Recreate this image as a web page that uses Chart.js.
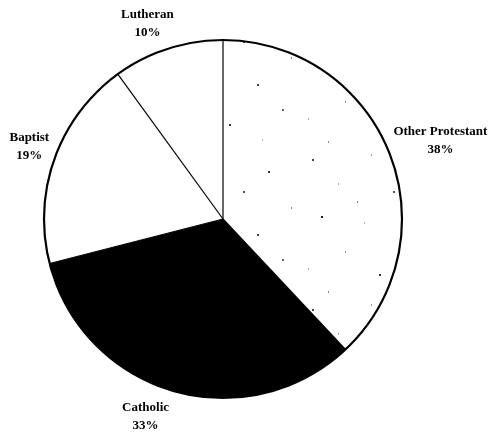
<!DOCTYPE html>
<html>
<head>
<meta charset="utf-8">
<script src="https://cdn.jsdelivr.net/npm/chart.js@4.4.1/dist/chart.umd.min.js"></script>
<style>
  html, body { margin: 0; padding: 0; background: #fff; }
  #wrap { width: 488px; height: 439px; }
</style>
</head>
<body>
<div id="wrap"><canvas id="pie"></canvas></div>
<script>
// Denomination shares (%)
const labels = ["Other Protestant", "Catholic", "Baptist", "Lutheran"];
const shares = [38, 33, 19, 10];

// sparse, uneven stipple for the "Other Protestant" slice
function stipple() {
  const c = document.createElement("canvas");
  c.width = 150; c.height = 150;
  const g = c.getContext("2d");
  g.fillStyle = "#fff";
  g.fillRect(0, 0, 150, 150);
  const dots = [
    [12, 9, 2, "#444"], [71, 4, 1, "#999"], [118, 21, 2, "#333"], [38, 33, 1, "#aaa"],
    [93, 41, 2, "#555"], [141, 57, 1, "#888"], [21, 66, 2, "#222"], [64, 72, 1, "#bbb"],
    [107, 84, 2, "#444"], [45, 101, 1, "#999"], [132, 109, 2, "#666"], [8, 118, 1, "#aaa"],
    [79, 124, 2, "#333"], [28, 141, 1, "#888"], [112, 139, 1, "#bbb"], [57, 51, 1, "#777"]
  ];
  dots.forEach(([x, y, w, col]) => {
    g.fillStyle = col;
    g.fillRect(x, y, w, 2);
  });
  return g.createPattern(c, "repeat");
}

// label nudges from the radial anchor point, per slice
const nudges = [[26, -3], [-20, 0], [0, -3], [-12, 0]];

const piePlugin = {
  id: "pieDecor",
  afterDatasetsDraw(chart) {
    const ctx = chart.ctx;
    const arcs = chart.getDatasetMeta(0).data;
    const { x: cx, y: cy, outerRadius: r } = arcs[0].getProps(["x", "y", "outerRadius"], true);

    // radial dividers
    ctx.save();
    ctx.strokeStyle = "#000";
    ctx.lineWidth = 1.2;
    arcs.forEach(a => {
      const ang = a.startAngle;
      ctx.beginPath();
      ctx.moveTo(cx, cy);
      ctx.lineTo(cx + r * Math.cos(ang), cy + r * Math.sin(ang));
      ctx.stroke();
    });

    // outer rim
    ctx.lineWidth = 2.2;
    ctx.beginPath();
    ctx.arc(cx, cy, r, 0, Math.PI * 2);
    ctx.stroke();

    // labels
    ctx.fillStyle = "#000";
    ctx.font = "bold 13px 'Liberation Serif', 'Times New Roman', serif";
    ctx.textAlign = "center";
    ctx.textBaseline = "middle";
    arcs.forEach((a, i) => {
      const mid = (a.startAngle + a.endAngle) / 2;
      const lx = cx + r * 1.15 * Math.cos(mid) + nudges[i][0];
      const ly = cy + r * 1.15 * Math.sin(mid) + nudges[i][1];
      ctx.fillText(labels[i], lx, ly - 9);
      ctx.fillText(shares[i] + "%", lx, ly + 9);
    });
    ctx.restore();
  }
};

new Chart(document.getElementById("pie"), {
  type: "pie",
  data: {
    labels: labels,
    datasets: [{
      data: shares,
      backgroundColor: [stipple(), "#000", "#fff", "#fff"],
      borderWidth: 0
    }]
  },
  options: {
    responsive: true,
    maintainAspectRatio: false,
    animation: false,
    radius: 179,
    layout: { padding: { left: 40, right: 82, top: 38, bottom: 39 } },
    plugins: {
      legend: { display: false },
      tooltip: { enabled: false }
    }
  },
  plugins: [piePlugin]
});
</script>
</body>
</html>
